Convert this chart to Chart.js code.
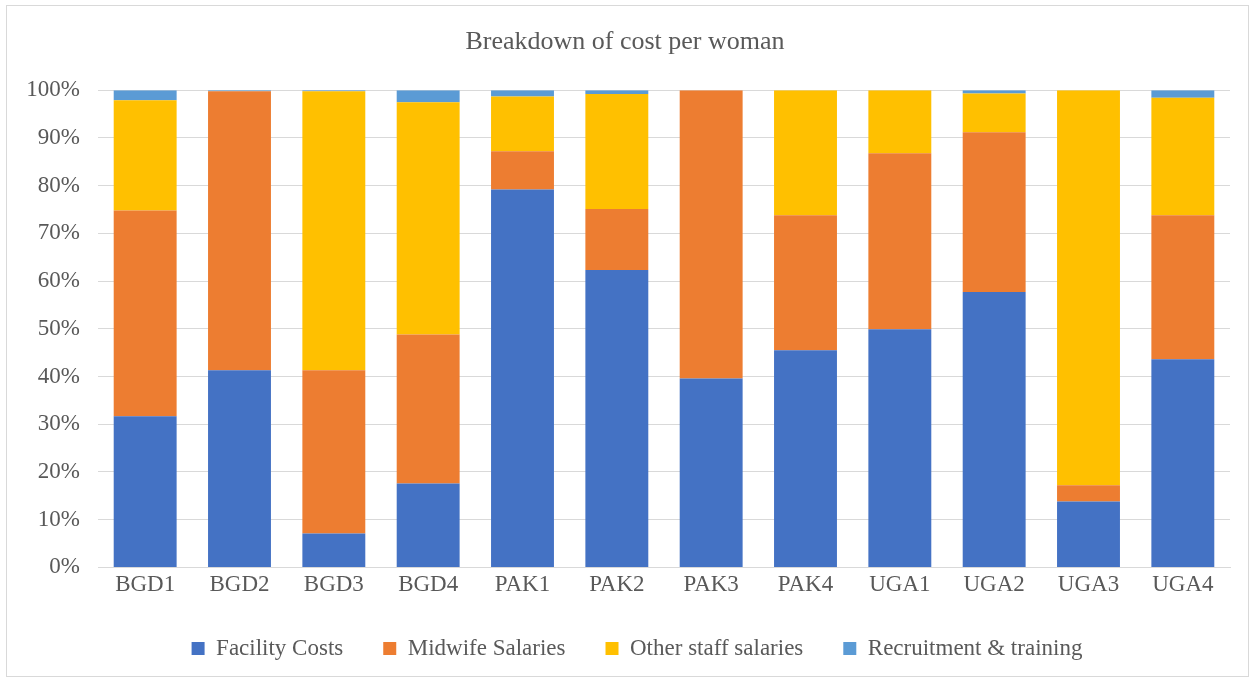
<!DOCTYPE html>
<html>
<head>
<meta charset="utf-8">
<script src="https://cdn.jsdelivr.net/npm/chart.js@4/dist/chart.umd.min.js"></script>
<style>
  html, body { margin: 0; padding: 0; background: #fff; }
  #wrap { position: relative; width: 1254px; height: 680px; }
  #frame { position: absolute; left: 6px; top: 5px; width: 1241px; height: 670px; border: 1px solid #d9d9d9; pointer-events: none; }
</style>
</head>
<body>
<div id="wrap">
  <canvas id="costChart" width="1254" height="680"></canvas>
  <div id="frame"></div>
</div>
<script>
// Sites and share of cost per woman (%)
const sites = ["BGD1", "BGD2", "BGD3", "BGD4", "PAK1", "PAK2", "PAK3", "PAK4", "UGA1", "UGA2", "UGA3", "UGA4"]
const facilityCosts = [31.7, 41.3, 7.1, 17.6, 79.2, 62.3, 39.6, 45.5, 49.9, 57.7, 13.8, 43.6]
const midwifeSalaries = [43.1, 58.5, 34.2, 31.2, 8.0, 12.8, 60.4, 28.3, 36.9, 33.5, 3.4, 30.2]
const otherStaffSalaries = [23.1, 0.0, 58.5, 48.7, 11.5, 24.1, 0.0, 26.2, 13.2, 8.1, 82.8, 24.6]
const recruitmentTraining = [2.1, 0.2, 0.2, 2.5, 1.3, 0.8, 0.0, 0.0, 0.0, 0.7, 0.0, 1.6]
const yTicks = [0, 10, 20, 30, 40, 50, 60, 70, 80, 90, 100]

const serif = "'Liberation Serif', 'Times New Roman', serif"
const textColor = "#595959"

// nudge the legend a little (right and up), like the original
const legendShift = {
  id: "legendShift",
  afterLayout(chart) {
    const lg = chart.legend
    if (lg) {
      lg.left += 12
      lg.right += 12
      lg.top -= 6
      lg.bottom -= 6
    }
  },
}

document.addEventListener("DOMContentLoaded", () => {
  initializeChart()
})

function initializeChart() {
  const ctx = document.getElementById("costChart")
  new Chart(ctx, {
    type: "bar",
    data: {
      labels: sites,
      datasets: [
        { label: "Facility Costs", data: facilityCosts, backgroundColor: "#4472c4" },
        { label: "Midwife Salaries", data: midwifeSalaries, backgroundColor: "#ed7d31" },
        { label: "Other staff salaries", data: otherStaffSalaries, backgroundColor: "#ffc000" },
        { label: "Recruitment & training", data: recruitmentTraining, backgroundColor: "#5b9bd5" },
      ],
    },
    plugins: [legendShift],
    options: {
      responsive: false,
      animation: false,
      datasets: {
        bar: {
          categoryPercentage: 1.0,
          barPercentage: 0.667,
          borderWidth: 0,
        },
      },
      layout: {
        padding: { top: 20, left: 20, right: 24, bottom: 4 },
      },
      plugins: {
        title: {
          display: true,
          text: "Breakdown of cost per woman",
          color: textColor,
          font: { family: serif, size: 26, weight: "normal" },
          padding: { top: 7, bottom: 32 },
        },
        legend: {
          position: "bottom",
          labels: {
            color: textColor,
            font: { family: serif, size: 23 },
            boxWidth: 13,
            boxHeight: 13,
            padding: 40,
          },
        },
        tooltip: { enabled: false },
      },
      scales: {
        x: {
          stacked: true,
          grid: { display: false, drawTicks: false },
          border: { color: "#d9d9d9", width: 1 },
          ticks: {
            color: textColor,
            font: { family: serif, size: 23 },
            padding: 4,
            maxRotation: 0,
          },
        },
        y: {
          stacked: true,
          min: 0,
          max: 100,
          afterFit: (scale) => { scale.width = 78 },
          afterBuildTicks: (scale) => { scale.ticks = yTicks.map((v) => ({ value: v })) },
          grid: { color: "#d9d9d9", lineWidth: 1, drawTicks: false },
          border: { display: false },
          ticks: {
            color: textColor,
            font: { family: serif, size: 23 },
            padding: 18,
            callback: (v) => v + "%",
          },
        },
      },
    },
  })
}
</script>
</body>
</html>
